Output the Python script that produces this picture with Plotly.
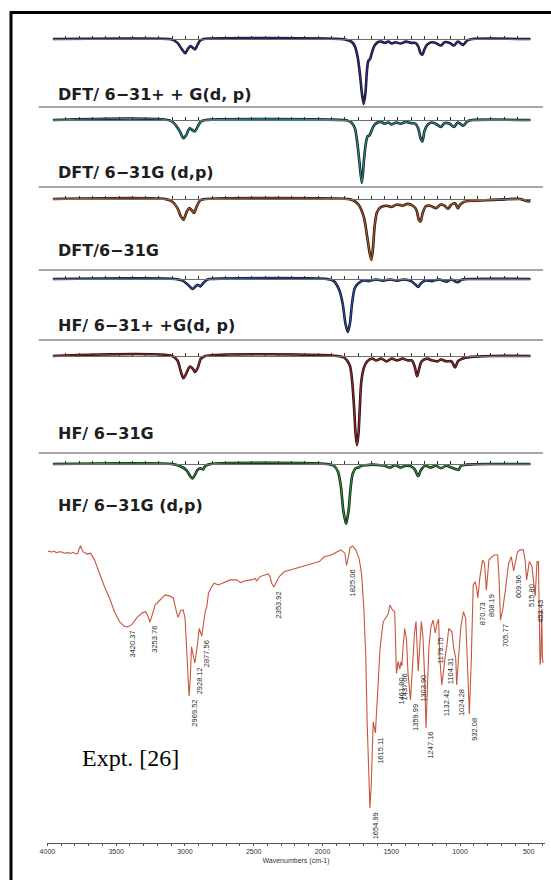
import plotly.graph_objects as go

W, H = 551, 880

# ---------------- calculated spectra (relative intensity, %) ----------------
calc_labels = ["DFT/ 6−31+ + G(d, p)", "DFT/ 6−31G (d,p)", "DFT/6−31G",
               "HF/ 6−31+ +G(d, p)", "HF/ 6−31G", "HF/ 6−31G (d,p)"]

dft_631ppgdp_wn = [4000, 3126, 3100, 3060, 3026, 3002, 2981, 2962, 2941, 2928, 2909, 2888, 2862,
                   1829, 1790, 1750, 1724, 1702, 1684, 1671, 1657, 1644, 1634, 1623, 1610, 1597, 1578, 1552,
                   1525, 1499, 1472, 1446, 1419, 1380, 1340, 1300, 1268, 1247, 1229, 1215, 1200, 1181, 1147,
                   1115, 1075, 1049, 1009, 977, 948, 908, 877, 837, 400]
dft_631ppgdp_int = [0, 0, -1, -6, -16, -22, -15, -11, -14, -16, -9, -2, 0,
                    0, -1, -4, -11, -29, -57, -83, -100, -83, -52, -34, -31, -22, -11, -5,
                    -4, -6, -4, -7, -5, -7, -4, -6, -6, -11, -22, -24, -16, -9, -5,
                    -6, -10, -5, -6, -10, -4, -9, -2, 0, 0]

dft_631gdp_wn = [4000, 3113, 3074, 3042, 3015, 2994, 2968, 2941, 2928, 2909, 2883, 2849,
                 1816, 1777, 1750, 1724, 1705, 1689, 1671, 1655, 1641, 1628, 1612, 1597, 1578, 1552, 1525,
                 1499, 1472, 1446, 1411, 1380, 1340, 1300, 1268, 1247, 1229, 1215, 1200, 1181, 1147,
                 1115, 1075, 1049, 1009, 977, 948, 908, 877, 837, 400]
dft_631gdp_int = [0, -1, -8, -18, -29, -24, -13, -17, -18, -11, -2, 0,
                  0, -1, -4, -13, -37, -68, -100, -63, -37, -26, -24, -16, -8, -4, -3,
                  -6, -4, -7, -4, -6, -3, -5, -6, -13, -29, -34, -18, -9, -4,
                  -6, -11, -5, -6, -11, -4, -9, -2, 0, 0]

dft_631g_wn = [4000, 3153, 3100, 3060, 3034, 3015, 2994, 2973, 2954, 2936, 2915, 2888, 2849,
               1777, 1737, 1697, 1657, 1631, 1612, 1599, 1586, 1575, 1559, 1538, 1512, 1485, 1446,
               1406, 1366, 1326, 1287, 1260, 1242, 1229, 1213, 1189, 1155, 1115, 1075, 1049, 1022,
               996, 969, 948, 930, 903, 850, 744, 638, 480, 413, 400]
dft_631g_int = [0, 0, -4, -15, -29, -34, -23, -15, -18, -23, -12, -2, 0,
                0, -2, -9, -29, -62, -89, -100, -77, -45, -23, -15, -12, -11, -13,
                -9, -11, -8, -11, -18, -34, -37, -23, -12, -11, -15, -9, -11, -16,
                -9, -7, -15, -9, -5, -3, -2, -1, 0, -4, -3]

hf_631ppgdp_wn = [4000, 3074, 3021, 2981, 2946, 2925, 2909, 2888, 2867, 2835, 2809,
                  1935, 1882, 1843, 1816, 1795, 1777, 1761, 1745, 1724, 1697, 1657, 1618, 1565, 1512,
                  1459, 1406, 1353, 1300, 1266, 1247, 1229, 1194, 1141, 1088, 1036, 996, 951, 916, 850, 400]
hf_631ppgdp_int = [0, 0, -3, -11, -19, -14, -11, -14, -8, -1, 0,
                   0, -4, -20, -46, -84, -100, -84, -46, -17, -8, -3, -4, -1, -3,
                   -1, -3, -1, -4, -11, -15, -9, -3, -4, -1, -5, -1, -6, -1, 0, 0]

hf_631g_wn = [4000, 3100, 3060, 3034, 3015, 2989, 2968, 2946, 2928, 2909, 2883, 2849,
              1856, 1803, 1763, 1745, 1729, 1718, 1708, 1697, 1687, 1676, 1657, 1631, 1591, 1565, 1525,
              1485, 1446, 1406, 1366, 1326, 1295, 1273, 1255, 1239, 1221, 1181, 1141, 1102, 1075, 1036,
              996, 969, 948, 916, 850, 691, 400]
hf_631g_int = [0, 0, -5, -18, -25, -18, -12, -14, -18, -14, -3, 0,
               0, -2, -10, -27, -60, -88, -100, -88, -60, -30, -14, -6, -3, -5, -3,
               -6, -3, -5, -3, -5, -5, -12, -23, -14, -6, -3, -5, -6, -4, -6,
               -6, -13, -6, -3, -1, 0, 0]

hf_631gdp_wn = [4000, 3100, 3047, 2994, 2962, 2946, 2928, 2909, 2888, 2867, 2849, 2809,
                1935, 1882, 1851, 1829, 1811, 1790, 1771, 1755, 1740, 1718, 1697, 1676, 1644, 1591, 1538,
                1499, 1459, 1419, 1380, 1340, 1300, 1273, 1247, 1226, 1194, 1155, 1115, 1075, 1036, 996,
                956, 943, 924, 877, 691, 400]
hf_631gdp_int = [0, 0, -3, -10, -21, -24, -18, -10, -7, -9, -3, 0,
                 0, -3, -13, -38, -77, -100, -77, -38, -16, -7, -6, -3, -2, -1, -2,
                 -3, -6, -2, -6, -3, -4, -9, -20, -10, -3, -6, -3, -7, -3, -6,
                 -9, -10, -3, -1, 0, 0]

calc_wn = [dft_631ppgdp_wn, dft_631gdp_wn, dft_631g_wn, hf_631ppgdp_wn, hf_631g_wn, hf_631gdp_wn]
calc_int = [dft_631ppgdp_int, dft_631gdp_int, dft_631g_int, hf_631ppgdp_int, hf_631g_int, hf_631gdp_int]

# ---------------- experimental FT-IR (transmittance, %) ----------------
expt_wn = [3995, 3970, 3950, 3935, 3924, 3900, 3880, 3860, 3851, 3830,
           3815, 3802, 3790, 3778, 3773, 3759, 3742, 3711, 3686, 3657,
           3621, 3585, 3548, 3512, 3476, 3444, 3420.37, 3388, 3348, 3307,
           3286, 3268, 3253.76, 3237, 3217, 3181, 3144, 3108, 3084, 3062,
           3050, 3032, 3013, 2999, 2986, 2978, 2969.52, 2961, 2952, 2940,
           2928.12, 2912, 2896, 2877.56, 2861, 2853, 2841, 2829, 2812, 2788,
           2757, 2721, 2672, 2624, 2595, 2563, 2515, 2491, 2478, 2454,
           2394, 2381, 2369, 2353.92, 2338, 2314, 2278, 2229, 2180, 2132,
           2084, 2023, 1987, 1938, 1890, 1866, 1837, 1825.06, 1806, 1801,
           1782, 1758, 1734, 1716, 1700, 1685, 1675, 1662, 1654.99, 1646,
           1638, 1631, 1615.11, 1603, 1594, 1582, 1569, 1558, 1534, 1521,
           1510, 1500, 1491, 1475, 1461.90, 1450, 1437.06, 1430, 1423, 1414,
           1402, 1389, 1378, 1359.99, 1351, 1342, 1331, 1320, 1311, 1303.90,
           1292, 1281, 1270, 1258, 1247.16, 1238, 1226, 1212, 1196, 1179.75,
           1168, 1156, 1146, 1132.42, 1118, 1104.31, 1095, 1082, 1059, 1047,
           1031, 1024.28, 1012, 994, 975, 959, 947, 932.08, 918, 904,
           890, 879, 870.73, 855, 836, 822, 808.19, 790, 771, 750,
           726, 716, 705.77, 697, 690, 670, 647, 627, 609.96, 596,
           582, 563, 540, 526, 515.80, 496, 477, 453.43, 440, 430,
           423, 418, 412, 406, 401, 397]
expt_T = [97.3, 97.0, 97.3, 96.7, 97.0, 97.1, 96.6, 96.9, 96.8, 96.5,
          96.9, 96.6, 96.4, 96.6, 97.6, 99.1, 97.1, 96.3, 96.6, 94.3,
          89.9, 85.4, 81.6, 77.1, 73.8, 72.3, 72.0, 72.7, 75.2, 76.8,
          77.1, 75.5, 73.6, 76.3, 79.3, 81.0, 82.7, 82.3, 81.6, 77.1,
          75.2, 77.4, 77.7, 74.9, 65.4, 56.0, 49.0, 55.0, 65.4, 62.0,
          60.0, 65.0, 71.5, 69.0, 74.3, 77.1, 78.8, 83.2, 84.9, 86.6,
          86.0, 86.8, 87.7, 87.7, 86.8, 87.4, 87.7, 88.2, 87.4, 88.8,
          89.7, 88.8, 86.6, 85.3, 86.6, 88.8, 90.4, 91.0, 91.6, 92.3,
          93.0, 93.8, 95.4, 96.0, 97.1, 97.7, 96.6, 92.5, 96.6, 98.3,
          99.0, 97.7, 94.9, 89.9, 78.8, 62.1, 39.9, 23.2, 11.7, 18.8,
          29.9, 40.4, 36.7, 46.0, 51.0, 64.3, 69.9, 73.8, 75.4, 76.5,
          79.3, 78.5, 77.7, 77.1, 56.5, 60.5, 58.0, 60.4, 59.0, 65.4,
          71.5, 67.7, 56.6, 47.7, 55.0, 63.3, 70.0, 73.8, 66.0, 57.3,
          66.0, 73.8, 69.0, 56.6, 38.3, 51.0, 65.3, 72.0, 74.3, 70.0,
          73.0, 74.6, 61.0, 52.7, 59.0, 63.3, 66.0, 71.5, 70.4, 65.3,
          61.5, 52.7, 61.0, 72.0, 77.1, 74.9, 61.0, 43.0, 61.0, 86.0,
          87.1, 85.0, 81.7, 88.8, 94.3, 93.2, 84.3, 94.3, 95.3, 96.0,
          96.0, 88.0, 74.3, 76.0, 77.7, 84.3, 93.2, 95.4, 90.7, 94.0,
          97.0, 97.7, 97.7, 94.0, 87.7, 93.8, 92.2, 82.3, 93.8, 93.8,
          72.6, 59.4, 62.0, 78.0, 62.0, 60.0]
assert len(expt_wn) == len(expt_T)

peak_label_wn = [3420.37, 3253.76, 2969.52, 2928.12, 2877.56, 2353.92, 1825.06, 1654.99,
                 1615.11, 1461.90, 1437.06, 1359.99, 1303.90, 1247.16, 1179.75, 1132.42,
                 1104.31, 1024.28, 932.08, 870.73, 808.19, 705.77, 609.96, 515.80, 453.43]

# ---------------- styling / layout ----------------
panel_base = [39, 120, 199, 279, 356, 464]     # baseline pixel rows
panel_depth = [65, 63, 61, 53, 89, 60]         # pixel depth of strongest band
label_row = [94, 173, 250, 325, 433, 506]
sep_rows = [107, 187, 270, 340, 453]
core_colors = ["#2e2e9a", "#23909a", "#c2571c", "#2a4fb5", "#a52222", "#2f9a3c"]
CX0, CX1 = 52.7, 530.6
EX0, EX1 = 47.4, 544.6
EY_AXIS, EY_TOP = 843, 537

fig = go.Figure()
layout = dict(width=W, height=H, autosize=False, margin=dict(l=0, r=0, t=0, b=0, pad=0),
              paper_bgcolor="white", plot_bgcolor="rgba(0,0,0,0)", showlegend=False)

for i in range(6):
    n = i + 1
    xa = "x" if n == 1 else f"x{n}"
    ya = "y" if n == 1 else f"y{n}"
    b, d = panel_base[i], panel_depth[i]
    layout["xaxis" if n == 1 else f"xaxis{n}"] = dict(
        domain=[CX0 / W, CX1 / W], range=[4000, 400], anchor="free", position=1 - b / H,
        showline=True, linecolor="#6e6e6e", linewidth=1, ticks="inside", ticklen=3,
        tickwidth=1, tickcolor="#333", tickmode="linear", tick0=400, dtick=100,
        showticklabels=False, showgrid=False, zeroline=False, automargin=False)
    layout["yaxis" if n == 1 else f"yaxis{n}"] = dict(
        domain=[1 - (b + 1.05 * d) / H, 1 - (b - 0.05 * d) / H], range=[-105, 5],
        visible=False, anchor=xa, automargin=False)
    fig.add_trace(go.Scatter(x=calc_wn[i], y=calc_int[i], mode="lines", xaxis=xa, yaxis=ya,
                             line=dict(color="#141414", width=2.6, shape="spline", smoothing=0.8),
                             hoverinfo="skip"))
    fig.add_trace(go.Scatter(x=calc_wn[i], y=calc_int[i], mode="lines", xaxis=xa, yaxis=ya,
                             line=dict(color=core_colors[i], width=1.1, shape="spline", smoothing=0.8),
                             hoverinfo="skip"))

layout["xaxis7"] = dict(domain=[EX0 / W, EX1 / W], range=[4000, 385], anchor="y7",
                        showline=True, linecolor="#555", linewidth=1, ticks="outside", ticklen=2,
                        tickcolor="#555", tickmode="linear", tick0=0, dtick=500,
                        tickfont=dict(family="Liberation Sans, Arial", size=7, color="#333"),
                        minor=dict(dtick=100, ticks="outside", ticklen=2, tickcolor="#555"),
                        title=dict(text="Wavenumbers (cm-1)", standoff=3,
                                   font=dict(family="Liberation Sans, Arial", size=7, color="#333")),
                        showgrid=False, zeroline=False, automargin=False)
layout["yaxis7"] = dict(domain=[1 - EY_AXIS / H, 1 - EY_TOP / H], range=[0, 102], visible=False,
                        anchor="x7", automargin=False)
fig.add_trace(go.Scatter(x=expt_wn, y=expt_T, mode="lines", xaxis="x7", yaxis="y7",
                         line=dict(color="#c8553d", width=1.1), hoverinfo="skip"))

annotations = []
for i, txt in enumerate(calc_labels):
    annotations.append(dict(xref="paper", yref="paper", x=56 / W, y=1 - label_row[i] / H,
                            xanchor="left", yanchor="middle", showarrow=False, text=txt,
                            font=dict(family="DejaVu Sans", size=16, color="#1e1e1e", weight="bold")))
T_at = dict(zip(expt_wn, expt_T))
for wn in peak_label_wn:
    annotations.append(dict(xref="x7", yref="y7", x=wn, y=T_at[wn], text=f"{wn:.2f}",
                            textangle=-90, xanchor="center", yanchor="top", xshift=5, yshift=-2,
                            showarrow=False,
                            font=dict(family="Liberation Sans, Arial", size=7.5, color="#2a2a2a")))
annotations.append(dict(xref="paper", yref="paper", x=80 / W, y=1 - 758 / H, xanchor="left",
                        yanchor="middle", showarrow=False, text="Expt. [26]",
                        font=dict(family="Liberation Serif, Times New Roman", size=24, color="black")))
layout["annotations"] = annotations

shapes = []
for r in sep_rows:
    shapes.append(dict(type="line", xref="paper", yref="paper", x0=38.7 / W, x1=543 / W,
                       y0=1 - r / H, y1=1 - r / H, line=dict(color="#8a8a8a", width=1.5)))
shapes.append(dict(type="line", xref="paper", yref="paper", x0=11 / W, x1=1,
                   y0=1 - 12.5 / H, y1=1 - 12.5 / H, line=dict(color="black", width=3)))
shapes.append(dict(type="line", xref="paper", yref="paper", x0=11 / W, x1=11 / W,
                   y0=0, y1=1 - 11 / H, line=dict(color="black", width=3)))
layout["shapes"] = shapes

fig.update_layout(**layout)
fig.write_html("out.html", config={"displayModeBar": False},
               post_script="document.documentElement.style.overflow='hidden';"
                           "document.body.style.margin='0';document.body.style.padding='0';")
